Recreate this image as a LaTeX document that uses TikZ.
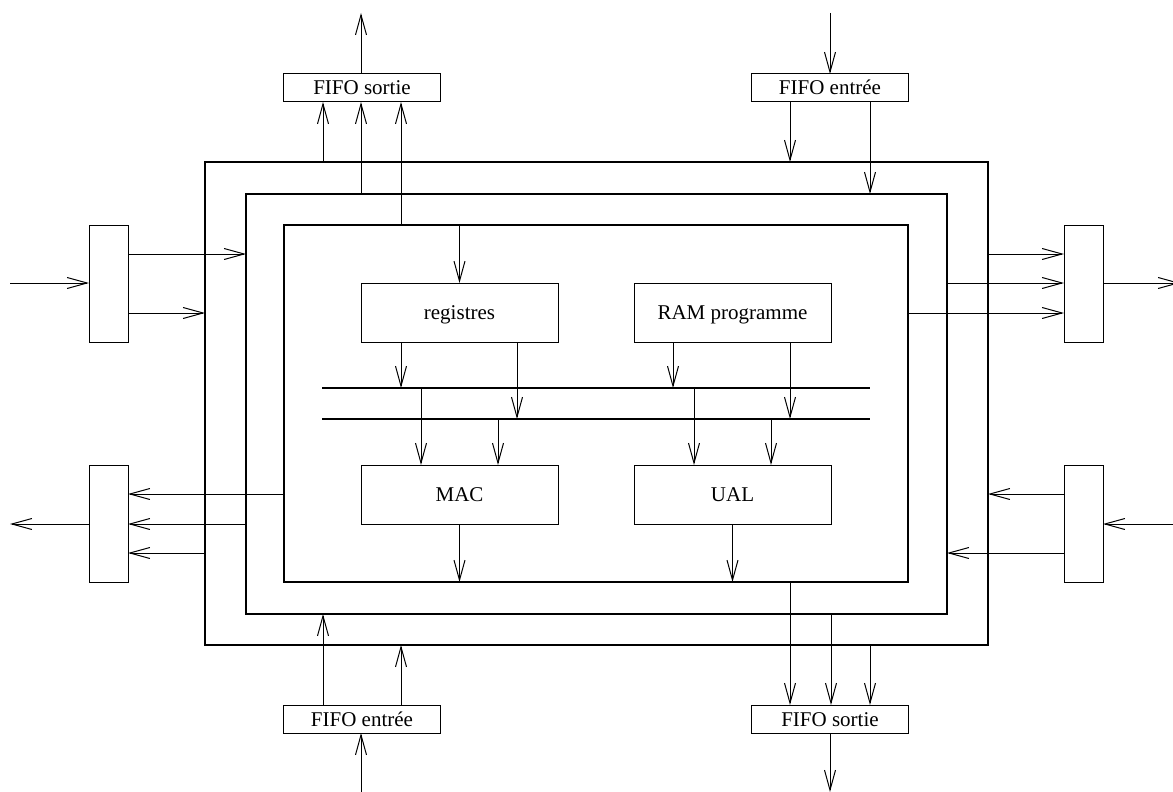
\documentclass[tikz,border=0pt]{standalone}
\usepackage{fontspec}
\setmainfont{Liberation Serif}
\usetikzlibrary{arrows.meta,positioning}

\begin{document}
\begin{tikzpicture}[
  x=.5pt, y=-.5pt,
  box/.style={draw, line width=.5pt, align=center, inner sep=0pt, outer sep=0pt,
              text height=7pt, text depth=0pt,
              font=\fontsize{10.5}{12}\selectfont},
  fifo/.style={box, minimum width=78.5pt, minimum height=14pt},
  slab/.style={box, minimum width=19.5pt, minimum height=58.5pt},
  block/.style={box, minimum width=98.5pt, minimum height=29.5pt},
  frame/.style={box, line width=.85pt},
  arr/.style={-{Straight Barb[length=10pt, width=5.5pt]}, line width=.5pt},
  bus/.style={line width=.85pt}
]
\useasboundingbox (0,0) rectangle (1173,792);

% cadres
\node[frame, minimum width=391.5pt, minimum height=241.5pt] (outer) at (596.5,403.5) {};
\node[frame, minimum width=350.5pt, minimum height=210pt] (mid) at (596.5,404) {};
\node[frame, minimum width=312pt, minimum height=178.5pt] (inner) at (596,403.5) {};

% blocs internes
\node[block] (regs) at (459.5,312.5) {registres};
\node[block, right=38pt of regs] (ram) {RAM programme};
\node[block, below=61.5pt of regs] (mac) {MAC};
\node[block, right=38pt of mac] (ual) {UAL};

% fifos
\node[fifo] (fifoTL) at (362,88) {FIFO sortie};
\node[fifo] (fifoTR) at (830,88) {FIFO entrée};
\node[fifo] (fifoBL) at (362,719) {FIFO entrée};
\node[fifo] (fifoBR) at (830,719) {FIFO sortie};

% blocs lateraux
\node[slab] (slabTL) at (108.5,283.5) {};
\node[slab] (slabBL) at (108.5,523.5) {};
\node[slab] (slabTR) at (1083.5,283.5) {};
\node[slab] (slabBR) at (1083.5,523.5) {};

% bus
\coordinate (busAw) at (322,388);
\coordinate (busAe) at (870,388);
\coordinate (busBw) at (322,419);
\coordinate (busBe) at (870,419);
\draw[bus] (busAw) -- (busAe);
\draw[bus] (busBw) -- (busBe);

% extremites libres
\coordinate (topL) at (361,13);
\coordinate (topR) at (830,13);
\coordinate (botL) at (361,792);
\coordinate (botR) at (830,792);
\coordinate (inL) at (10,283);
\coordinate (outL) at (10,524);
\coordinate (outR) at (1180,283);
\coordinate (inR) at (1173,524);

% haut gauche
\draw[arr] (fifoTL.north -| topL) -- (topL);
\draw[arr] (outer.north -| 323,0) -- (fifoTL.south -| 323,0);
\draw[arr] (mid.north -| 361,0) -- (fifoTL.south -| 361,0);
\draw[arr] (inner.north -| 401,0) -- (fifoTL.south -| 401,0);

% haut droite
\draw[arr] (topR) -- (fifoTR.north -| topR);
\draw[arr] (fifoTR.south -| 790,0) -- (outer.north -| 790,0);
\draw[arr] (fifoTR.south -| 870,0) -- (mid.north -| 870,0);

% gauche
\draw[arr] (inL) -- (slabTL.west |- inL);
\draw[arr] (slabTL.east |- 0,254) -- (mid.west |- 0,254);
\draw[arr] (slabTL.east |- 0,313) -- (outer.west |- 0,313);
\draw[arr] (slabBL.west |- outL) -- (outL);
\draw[arr] (inner.west |- 0,494) -- (slabBL.east |- 0,494);
\draw[arr] (mid.west |- 0,524) -- (slabBL.east |- 0,524);
\draw[arr] (outer.west |- 0,553) -- (slabBL.east |- 0,553);

% droite
\draw[arr] (outer.east |- 0,254) -- (slabTR.west |- 0,254);
\draw[arr] (mid.east |- 0,283) -- (slabTR.west |- 0,283);
\draw[arr] (inner.east |- 0,313) -- (slabTR.west |- 0,313);
\draw[arr] (slabTR.east |- outR) -- (outR);
\draw[arr] (slabBR.west |- 0,494) -- (outer.east |- 0,494);
\draw[arr] (slabBR.west |- 0,553) -- (mid.east |- 0,553);
\draw[arr] (inR) -- (slabBR.east |- inR);

% interieur
\draw[arr] (inner.north -| regs) -- (regs);
\draw[arr] (regs.south -| 401,0) -- (busAw -| 401,0);
\draw[arr] (regs.south -| 517,0) -- (busBw -| 517,0);
\draw[arr] (ram.south -| 673,0) -- (busAw -| 673,0);
\draw[arr] (ram.south -| 790,0) -- (busBw -| 790,0);
\draw[arr] (busAw -| 421,0) -- (mac.north -| 421,0);
\draw[arr] (busBw -| 498,0) -- (mac.north -| 498,0);
\draw[arr] (busAw -| 694,0) -- (ual.north -| 694,0);
\draw[arr] (busBw -| 771,0) -- (ual.north -| 771,0);
\draw[arr] (mac) -- (inner.south -| mac);
\draw[arr] (ual) -- (inner.south -| ual);

% bas gauche
\draw[arr] (botL) -- (fifoBL.south -| botL);
\draw[arr] (fifoBL.north -| 323,0) -- (mid.south -| 323,0);
\draw[arr] (fifoBL.north -| 401,0) -- (outer.south -| 401,0);

% bas droite
\draw[arr] (inner.south -| 790,0) -- (fifoBR.north -| 790,0);
\draw[arr] (mid.south -| 831,0) -- (fifoBR.north -| 831,0);
\draw[arr] (outer.south -| 870,0) -- (fifoBR.north -| 870,0);
\draw[arr] (fifoBR.south -| botR) -- (botR);
\end{tikzpicture}
\end{document}
